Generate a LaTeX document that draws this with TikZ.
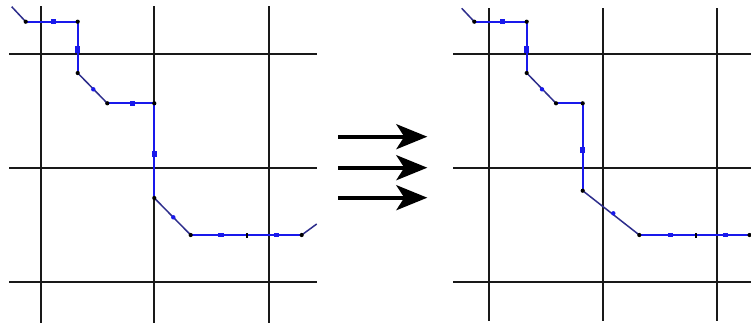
\documentclass[tikz,border=0pt]{standalone}
\usetikzlibrary{arrows.meta}
\definecolor{pathblue}{RGB}{25,25,235}
\definecolor{diagblue}{RGB}{45,45,140}
\definecolor{gridcol}{RGB}{25,25,25}
\tikzset{
  gridline/.style={draw=gridcol, line width=1.9pt},
  seg/.style={draw=pathblue, line width=1.9pt},
  dseg/.style={draw=diagblue, line width=1.5pt},
  vtx/.style={circle, fill=black, inner sep=0pt, minimum size=4.2pt},
  hsq/.style={rectangle, fill=pathblue, inner sep=0pt, minimum width=5.5pt, minimum height=4.8pt},
  vsq/.style={rectangle, fill=pathblue, inner sep=0pt, minimum width=4.8pt, minimum height=6.5pt},
  dmk/.style={circle, fill=pathblue, inner sep=0pt, minimum size=4.4pt},
  tick/.style={rectangle, fill=black, inner sep=0pt, minimum width=2pt, minimum height=5pt},
  bigarrow/.style={draw=black, line width=3.6pt, -{Stealth[length=31pt, width=25pt, inset=8pt]}}
}
\begin{document}
\begin{tikzpicture}[x=1pt, y=-1pt]
\useasboundingbox[fill=white] (0,0) rectangle (751,324);
% ---------- left grid ----------
\foreach \x in {40.7,154.3,268.7} \draw[gridline] (\x,6) -- (\x,323);
\foreach \y in {53.7,167.7,281.7} \draw[gridline] (9.3,\y) -- (317.3,\y);
% ---------- left path ----------
\coordinate (L0) at (11.7,6.7);
\coordinate (L1) at (25.7,21.7);
\coordinate (L2) at (77.7,21.7);
\coordinate (L3) at (77.7,73);
\coordinate (L4) at (107.3,103.3);
\coordinate (L5) at (154.3,103.3);
\coordinate (L6) at (154.3,198);
\coordinate (L7) at (190.7,235);
\coordinate (L8) at (301.7,235);
\coordinate (L9) at (316.7,224);
\draw[dseg] (L0) -- (L1);
\draw[seg] (L1) -- (L2) -- (L3);
\draw[dseg] (L3) -- (L4);
\draw[seg] (L4) -- (L5) -- (L6);
\draw[dseg] (L6) -- (L7);
\draw[seg] (L7) -- (L8);
\draw[dseg] (L8) -- (L9);
\node[hsq] (la) at (53.3,21.7) {};
\node[vsq] (lb) at (77.4,49.7) {};
\node[dmk] (lc) at (93.3,89.3) {};
\node[hsq] (ld) at (132.7,103.3) {};
\node[vsq] (le) at (154.3,154) {};
\node[dmk] (lf) at (173.3,217.3) {};
\node[hsq] (lg) at (221,235) {};
\node[tick] (lh) at (247,235) {};
\node[hsq] (li) at (276.3,235) {};
\foreach \p in {L1,L2,L3,L4,L5,L6,L7,L8} \node[vtx] at (\p) {};
% ---------- arrows ----------
\coordinate (a1s) at (338.3,136.7); \coordinate (a1e) at (427.3,136.7);
\coordinate (a2s) at (338.3,167.7); \coordinate (a2e) at (427.3,167.7);
\coordinate (a3s) at (338.3,197.7); \coordinate (a3e) at (427.3,197.7);
\draw[bigarrow] (a1s) -- (a1e);
\draw[bigarrow] (a2s) -- (a2e);
\draw[bigarrow] (a3s) -- (a3e);
% ---------- right grid ----------
\foreach \x in {489.3,603,717} \draw[gridline] (\x,8.3) -- (\x,321);
\foreach \y in {53.7,167.7,281.7} \draw[gridline] (453.3,\y) -- (751,\y);
% ---------- right path ----------
\coordinate (R0) at (461.7,8.3);
\coordinate (R1) at (474.3,21.7);
\coordinate (R2) at (526.7,21.7);
\coordinate (R3) at (526.7,73);
\coordinate (R4) at (556,103.3);
\coordinate (R5) at (582.7,103.3);
\coordinate (R6) at (582.7,190.7);
\coordinate (R7) at (639.3,235);
\coordinate (R8) at (751,235);
\draw[dseg] (R0) -- (R1);
\draw[seg] (R1) -- (R2) -- (R3);
\draw[dseg] (R3) -- (R4);
\draw[seg] (R4) -- (R5) -- (R6);
\draw[dseg] (R6) -- (R7);
\draw[seg] (R7) -- (R8);
\node[hsq] (ra) at (502.3,21.7) {};
\node[vsq] (rb) at (526.4,49.3) {};
\node[dmk] (rc) at (542,89.3) {};
\node[vsq] (rd) at (582.7,150) {};
\node[dmk] (re) at (613.3,213.3) {};
\node[hsq] (rf) at (670.7,235) {};
\node[tick] (rg) at (696,235) {};
\node[hsq] (rh) at (725.3,235) {};
\foreach \p in {R1,R2,R3,R4,R5,R6,R7} \node[vtx] at (\p) {};
\node[vtx] (rend) at (749.5,235) {};
\end{tikzpicture}
\end{document}
